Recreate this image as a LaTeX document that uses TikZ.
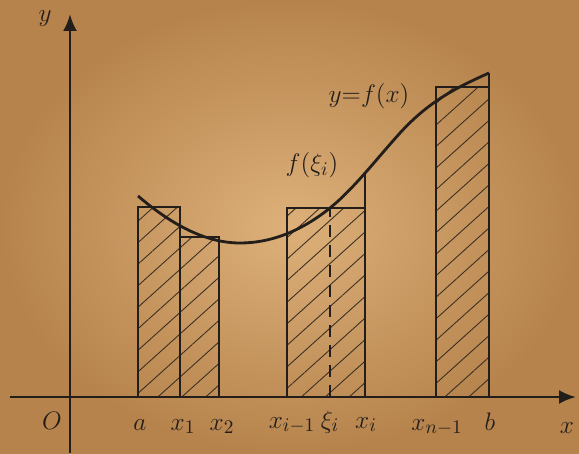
\documentclass[tikz,border=0pt]{standalone}
\usepackage{amsmath}
\usepackage{xcolor}
\usepackage{tikz}
\usetikzlibrary{arrows.meta,patterns.meta}
\definecolor{paper}{HTML}{DDB07A}
\definecolor{paperdark}{HTML}{B6834C}
\definecolor{ink}{HTML}{231E1A}
\definecolor{hatchc}{HTML}{3A2E24}
\tikzset{
  axis/.style={draw=ink,line width=1.5pt,-{Latex[length=3.4mm,width=2.8mm]}},
  bar/.style={draw=ink,line width=1.1pt,
    pattern={Lines[angle=42,distance=3.2mm,line width=0.5pt]},pattern color=hatchc},
  riser/.style={draw=ink,line width=1.1pt},
  curve/.style={draw=ink,line width=1.6pt},
  tag/.style={font=\fontsize{15}{18}\selectfont,text=ink,anchor=base,inner sep=0pt},
}

\begin{document}
\begin{tikzpicture}
  % page and paper tone
  \useasboundingbox (-1.4,-1.12) rectangle (10.18,7.94);
  \shade[inner color=paper,outer color=paperdark] (-1.4,-1.12) rectangle (10.18,7.94);
  % strips of the Riemann sum
  \draw[bar](1.36,0) rectangle (2.2,3.8);
  \draw[bar](2.2,0) rectangle (2.98,3.2);
  \draw[bar](4.34,0) rectangle (5.9,3.78);
  \draw[bar](7.32,0) rectangle (8.38,6.2);
  \draw[riser](5.9,3.78)--(5.9,4.48);
  \draw[riser](8.38,6.2)--(8.38,6.48);
  \draw[riser,dash pattern=on 2.4mm off 1.6mm](5.2,0)--(5.2,3.78);
  % the curve y=f(x)
  \draw[curve](1.36,4.02) .. controls (2.04,3.44) and (2.72,3.08) .. (3.4,3.08)
    .. controls (4.0,3.08) and (4.6,3.3) .. (5.2,3.78)
    .. controls (5.67,4.16) and (6.13,4.76) .. (6.6,5.28)
    .. controls (7.2,5.94) and (7.78,6.21) .. (8.38,6.48);
  % axes
  \coordinate (xs) at (-1.2,0);
  \coordinate (xe) at (10.12,0);
  \coordinate (ys) at (0,-1.12);
  \coordinate (ye) at (0,7.66);
  \draw[axis](xs)--(xe);
  \draw[axis](ys)--(ye);
  % labels
  \node[tag](ylab) at (-0.5,7.5) {$y$};
  \node[tag](olab) at (-0.36,-0.64) {$O$};
  \node[tag](xlab) at (9.94,-0.72) {$x$};
  \node[tag](la) at (1.4,-0.66) {$a$};
  \node[tag](l1) at (2.26,-0.66) {$x_1$};
  \node[tag](l2) at (3.04,-0.66) {$x_2$};
  \node[tag](li1) at (4.44,-0.62) {$x_{i-1}$};
  \node[tag](lxi) at (5.2,-0.62) {$\xi_i$};
  \node[tag](li) at (5.92,-0.62) {$x_i$};
  \node[tag](ln1) at (7.34,-0.66) {$x_{n-1}$};
  \node[tag](lb) at (8.4,-0.66) {$b$};
  \node[tag](fx) at (5.98,5.88) {$y{=}f(x)$};
  \node[tag](fxi) at (4.84,4.5) {$f(\xi_i)$};
\end{tikzpicture}
\end{document}
